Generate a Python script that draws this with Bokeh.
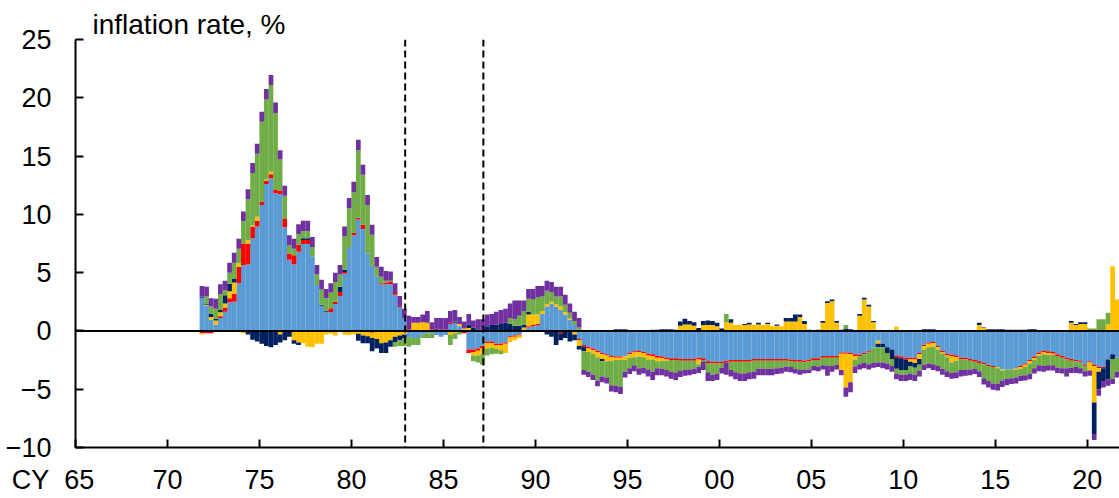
import numpy as np
import pandas as pd
from bokeh.plotting import figure
from bokeh.models import ColumnDataSource, Span, FixedTicker, Range1d
from bokeh.embed import file_html
from bokeh.resources import INLINE

# quarterly bars, 1971Q4 .. 2021Q3
quarters = pd.period_range("1971Q4", "2021Q3", freq="Q")

# contributions to the inflation rate (% points), one value per quarter
blue = [
    2.85, 2.15, 0.95, 0.55, 1.1, 1.65, 2.45, 2.5, 4.1, 5.65,
    5.7, 7.95, 8.95, 10.8, 12.6, 13.1, 11.8, 11.75, 8.9, 6.1,
    5.7, 6.8, 7.45, 7.45, 6.4, 3.95, 2.15, 1.65, 1.6, 2.3,
    3.0, 4.9, 7.2, 8.2, 9.55, 8.75, 6.65, 5.6, 4.65, 4.0,
    4.0, 4.0, 3.1, 2.05, 1.1, -0.55, -0.6, -0.6, -0.3, -0.2,
    -0.2, -0.35, -0.5, -0.35, 0.6, 0.7, 0.4, 0, -1.6, -1.6,
    -1.5, -1.3, -0.9, -0.9, -1.1, -1.1, -1.0, -0.45, -0.4, -0.3,
    0, 0.3, 0.4, 0.5, 1.45, 2.1, 2.35, 2.1, 1.8, 1.4,
    0.95, 0.5, -0.7, -1.2, -1.35, -1.5, -1.7, -1.9, -2.0, -2.15,
    -2.2, -2.2, -2.2, -1.9, -1.75, -1.7, -1.8, -1.95, -2.0, -2.15,
    -2.2, -2.3, -2.35, -2.35, -2.4, -2.4, -2.4, -2.4, -2.3, -2.35,
    -2.6, -2.65, -2.65, -2.65, -2.55, -2.5, -2.5, -2.5, -2.5, -2.5,
    -2.4, -2.4, -2.4, -2.4, -2.4, -2.4, -2.4, -2.4, -2.45, -2.5,
    -2.5, -2.55, -2.45, -2.35, -2.35, -2.15, -2.15, -2.15, -2.15, -1.85,
    -1.85, -1.9, -2.0, -2.05, -1.9, -1.75, -1.45, -0.85, -1.1, -1.4,
    -1.6, -2.1, -2.2, -2.3, -2.3, -2.3, -1.9, -1.2, -1.0, -0.95,
    -1.3, -1.7, -1.95, -2.05, -2.1, -2.3, -2.3, -2.4, -2.5, -2.6,
    -2.75, -2.9, -3.0, -3.1, -3.3, -3.3, -3.3, -3.25, -3.0, -2.8,
    -2.5, -2.2, -1.85, -1.7, -1.75, -1.8, -2.0, -2.15, -2.3, -2.4,
    -2.5, -2.6, -2.95, -2.6, -2.9, -3.1, -3.1, -2.45, -2.0, -2.3,
]
red = [
    -0.2, -0.2, -0.2, 0, 0.15, 0.35, 0.35, 0.7, 1.4, 1.85,
    1.8, 1.0, 0.5, 0.3, 0.3, 0.35, 0.3, 0.3, 0.7, 0.55,
    0.8, 0.6, 0.35, 0.35, 0, -0.1, -0.1, 0, 0.35, 0.2,
    0.35, 0.15, 0, 0.2, 0.15, 0.35, 0, -0.15, 0, 0.1,
    0.15, 0.2, 0.15, 0.1, 0, 0.15, 0, 0, 0, 0,
    0.15, 0.1, 0.1, 0.1, 0.1, 0, 0, -0.2, -0.3, -0.2,
    -0.2, -0.2, -0.15, -0.15, -0.1, -0.1, -0.1, -0.1, -0.1, -0.1,
    0.1, 0.1, 0.1, 0.1, 0, 0, 0, 0, -0.2, -0.1,
    -0.1, 0, -0.1, -0.15, -0.15, -0.15, -0.15, -0.1, -0.1, -0.1,
    -0.1, -0.1, 0, -0.1, -0.1, -0.1, -0.1, -0.15, -0.15, -0.15,
    -0.15, -0.15, -0.15, -0.15, -0.15, -0.15, -0.15, -0.15, -0.15, -0.15,
    -0.15, -0.15, -0.15, -0.1, -0.15, -0.15, -0.15, -0.15, -0.15, -0.15,
    -0.15, -0.15, -0.15, -0.15, -0.15, -0.15, -0.15, -0.15, -0.15, -0.15,
    -0.15, -0.15, -0.15, -0.15, -0.15, -0.15, -0.15, -0.15, -0.15, -0.1,
    -0.1, -0.1, -0.15, -0.15, -0.1, -0.1, 0, 0, 0, 0,
    0, -0.15, -0.15, -0.15, -0.15, -0.15, -0.1, -0.1, -0.1, -0.1,
    -0.1, -0.15, -0.15, -0.15, -0.15, -0.15, -0.15, -0.15, -0.15, -0.15,
    -0.1, -0.1, -0.1, 0, 0, 0, 0, 0, -0.1, -0.1,
    -0.1, -0.15, -0.15, -0.15, -0.15, -0.15, -0.15, -0.15, -0.15, -0.15,
    -0.1, -0.1, -0.1, -0.1, -0.1, -0.1, -0.1, 0, 0, 0,
]
yellow = [
    -0.1, 0.1, 0.25, 0.35, 0.35, 0.35, 0.6, 0.95, 0.3, -0.2,
    0.3, 0.1, 0.35, 0, 0.1, 0.2, 0, -0.3, 0, 0,
    -0.8, -1.0, -1.05, -1.35, -1.4, -1.0, -1.0, -0.3, -0.25, -0.4,
    -0.1, -0.3, -0.35, -0.3, -0.25, -0.4, -0.45, -0.45, -0.7, -1.05,
    -1.0, -0.8, -0.5, -0.4, -0.3, 0, 0.7, 0.7, 0.75, 0.7,
    0, 0, 0, 0, -0.35, -0.2, 0.2, 0.2, 0.25, -0.3,
    -0.4, -0.5, -0.45, -0.4, -0.35, -0.45, -0.8, -0.4, -0.3, -0.2,
    0.2, 1.0, 0.9, 0.8, 0.25, 0.2, 0.15, 0.2, 0.3, 0.2,
    0.1, -0.3, -0.5, 0, -0.3, -0.3, -0.4, -0.4, -0.5, -0.3,
    -0.2, -0.2, -0.3, -0.3, -0.4, -0.4, -0.35, -0.4, -0.3, -0.3,
    -0.2, -0.1, 0, 0, 0.45, 0.55, 0.55, 0.45, -0.4, 0.5,
    0.5, 0.5, 0.4, 0, 0.75, 0.7, 0.5, 0.5, 0.5, 0.55,
    0.5, 0.55, 0.5, 0.6, 0.4, 0.45, 0.4, 0.8, 0.8, 0.8,
    1.2, 0.6, 0, 0, 0, 0.7, 2.4, 2.55, 0.7, -1.4,
    -2.9, -2.4, -0.3, 1.3, 2.7, 2.1, 0.75, -0.25, 0, 0,
    0, 0.35, 0, 0, -0.2, -0.3, -0.4, -0.3, -0.3, -0.3,
    -0.2, -0.1, -0.15, -0.5, -0.3, 0, 0, 0, 0, 0.5,
    0.25, 0, 0, -0.1, -0.1, 0, 0, -0.1, -0.15, -0.2,
    -0.2, -0.15, -0.15, -0.15, -0.15, -0.1, 0, 0, 0, 0.7,
    0.5, 0.6, 0.6, -0.7, -3.15, -0.3, 0, 0.55, 5.55, 2.7,
]
navy = [
    0.1, 0.1, 0.3, 0.15, 0.2, 0.7, 0.65, 0.35, 0, 0,
    -0.3, -0.75, -0.9, -1.1, -1.3, -1.4, -1.2, -0.7, -0.8, -0.5,
    -0.3, -0.2, 0.15, 0.15, 0, 0, 0.1, 0.1, 0, 0,
    0.45, 0.2, 0, 0, -0.6, -0.65, -0.6, -1.15, -0.8, -0.85,
    -0.9, -0.55, -0.45, -0.4, -0.3, 0, 0, 0, 0, 0,
    0, 0.1, 0, 0, 0, 0.1, 0, 0, 0.3, 0.3,
    0.1, 0.1, 0.4, 0.5, 0.55, 0.6, 0.7, 0.6, 0.45, 0.45,
    0.2, 0.25, 0, 0, 0, -0.3, -0.5, -1.2, -0.6, -0.5,
    -0.8, -0.5, -0.3, -0.4, 0, 0, 0, -0.2, 0, 0,
    0.15, 0.15, 0.15, 0, 0, 0, 0.05, 0.05, 0.1, 0.1,
    0.15, 0.15, 0.15, 0.1, 0.35, 0.5, 0.3, 0.3, 0.25, 0.35,
    0.4, 0.35, 0.3, 0.2, 0, 0.3, 0, 0, 0.1, 0.15,
    0, 0.15, 0, 0.1, 0, 0.1, 0, 0.3, 0.3, 0.6,
    0.2, 0.25, 0.1, 0, 0.1, 0.15, 0.15, 0.15, 0.15, 0.1,
    0.2, 0.15, 0, 0.15, 0.15, 0.15, 0.1, -0.3, -0.3, -0.5,
    -0.8, -1.0, -1.0, -0.9, -0.4, -0.4, -0.5, 0.15, 0.15, 0.15,
    0, 0, 0, 0, 0, 0, 0, 0, 0, 0.2,
    0.05, 0.15, 0.15, 0.15, 0.15, 0.1, 0.1, 0.1, 0.1, 0.1,
    0.15, 0.15, 0, 0, 0, 0, 0, 0, 0, 0.15,
    0.1, 0.15, 0.15, 0, -2.7, -1.5, -1.1, -1.7, -0.4, 0,
]
green = [
    0, 0.6, 0.6, 0.85, 1.35, 0.45, 0.95, 1.35, 1.25, 1.9,
    3.5, 4.5, 5.4, 6.85, 6.85, 7.45, 6.6, 2.65, 2.0, 0.7,
    0.55, 0.9, 0.6, 0.6, 0.8, 0.9, 1.3, 1.05, 1.35, 1.7,
    1.05, 2.85, 3.3, 3.5, 5.8, 4.3, 4.15, 2.65, 0.85, 0.55,
    0.15, 0.1, -0.4, -0.5, -0.7, -0.8, -0.6, -0.6, -0.3, -0.4,
    -0.4, 0, 0, 0, -0.85, -0.5, -0.3, 0, 0, -0.5,
    -0.6, -0.9, -0.6, -0.55, -0.4, -0.35, 0, 0.5, 0.55, 0.85,
    1.2, 1.1, 1.3, 1.5, 1.25, 1.15, 0.85, 0.65, 0.85, 0.65,
    0.5, 0.35, 0.3, -1.6, -1.7, -1.8, -2.0, -1.3, -1.4, -2.1,
    -2.2, -2.3, -1.0, -0.9, -0.7, -1.0, -0.9, -0.8, -1.05, -0.6,
    -0.7, -0.8, -1.0, -1.1, -0.85, -0.8, -0.75, -0.7, -0.25, -0.1,
    -0.8, -0.95, -0.9, -0.4, 0.7, -0.7, -0.9, -1.0, -1.0, -0.9,
    -0.95, -0.7, -0.7, -0.7, -0.7, -0.65, -0.6, -0.5, -0.5, -0.6,
    -0.7, -0.6, -0.7, -0.5, -0.55, -0.65, -0.7, -0.7, -0.6, 0,
    0.3, 0, -0.6, -0.65, -0.75, -1.0, -1.3, -1.3, -1.3, -0.9,
    -0.6, -0.4, -0.4, -0.4, -0.6, -0.6, -0.5, -1.3, -1.4, -1.5,
    -1.4, -1.3, -1.2, -0.9, -1.0, -0.9, -0.9, -0.75, -0.6, -0.7,
    -1.2, -1.3, -1.4, -1.35, -0.85, -0.8, -0.75, -0.65, -0.6, -0.7,
    -0.9, -0.7, -0.8, -1.0, -0.9, -0.9, -1.0, -0.9, -0.75, -0.6,
    -0.5, -0.5, -0.4, 0.2, 0.2, 1.0, 1.0, 1.0, -1.7, -1.2,
]
purple = [
    0.9, 0.85, 0.7, 0.85, 0.85, 0.8, 0.85, 0.85, 0.85, 0.85,
    0.85, 0.85, 0.85, 0.85, 0.9, 0.85, 0.9, 0.8, 0.85, 0.85,
    0.85, 0.85, 0.9, 0.9, 0.85, 0.8, 0.85, 0.8, 0.8, 0.8,
    0.8, 0.85, 0.9, 0.9, 0.9, 0.85, 0.85, 0.85, 0.85, 0.85,
    0.85, 0.8, 0.85, 0.85, 0.8, 1.15, 0.5, 0.5, 0.65, 1.0,
    0.6, 0.9, 1.0, 1.0, 1.0, 1.0, 0.6, 0.6, 0.9, 0.6,
    0.9, 0.9, 1.0, 0.95, 1.1, 1.2, 1.2, 1.25, 1.6, 1.3,
    0.9, 0.85, 0.9, 0.95, 0.9, 0.85, 0.85, 0.85, 0.85, 0.85,
    0.8, 0.8, 0.8, -0.4, -0.45, -0.45, -0.5, -0.5, -0.5, -0.55,
    -0.55, -0.6, -0.5, -0.5, -0.5, -0.55, -0.5, -0.6, -0.7, -0.6,
    -0.55, -0.55, -0.6, -0.6, -0.55, -0.5, -0.5, -0.45, -0.5, -0.75,
    -0.75, -0.55, -0.5, -0.5, -1.05, -0.55, -0.6, -0.65, -0.65, -0.6,
    -0.6, -0.55, -0.55, -0.55, -0.55, -0.5, -0.5, -0.45, -0.45, -0.4,
    -0.4, -0.35, -0.3, -0.4, -0.4, -0.35, -0.85, -0.5, -0.4, -0.45,
    -0.8, -0.85, -0.55, -0.45, -0.45, -0.45, -0.4, -0.4, -0.5, -0.5,
    -0.5, -0.5, -0.55, -0.55, -0.55, -0.55, -0.5, -0.45, -0.4, -0.5,
    -0.45, -0.5, -0.5, -0.5, -0.5, -0.55, -0.5, -0.5, -0.45, -0.5,
    -0.55, -0.55, -0.55, -0.55, -0.55, -0.55, -0.5, -0.5, -0.45, -0.45,
    -0.45, -0.45, -0.5, -0.5, -0.45, -0.45, -0.45, -0.45, -0.7, -0.45,
    -0.5, -0.45, -0.45, -0.45, -0.5, -0.55, -0.55, -0.55, -0.45, -0.5,
]

# stacking order from the zero line outwards
names = ["blue", "red", "yellow", "navy", "green", "purple"]
colors = ["#5B9BD5", "#FF0000", "#FFC000", "#002060", "#70AD47", "#7030A0"]
values = dict(blue=blue, red=red, yellow=yellow, navy=navy, green=green, purple=purple)

tick_years = [1965, 1970, 1975, 1980, 1985, 1990, 1995, 2000, 2005, 2010, 2015, 2020]
tick_labels = ["65", "70", "75", "80", "85", "90", "95", "00", "05", "10", "15", "20"]
event_lines = [1982.92, 1987.17]

x = np.asarray(quarters.year + (quarters.quarter - 1) / 4 + 0.125, dtype=float)
pos = dict(x=x)
neg = dict(x=x)
for n in names:
    v = np.array(values[n], dtype=float)
    pos[n] = np.clip(v, 0, None)
    neg[n] = np.clip(v, None, 0)

FONT = "Liberation Sans"
NB = "\u00a0"

p = figure(width=1119, height=498, output_backend="svg", toolbar_location=None,
           x_range=Range1d(1965, 2021.75), y_range=Range1d(-10, 25),
           min_border_left=75, min_border_right=0, min_border_top=39, min_border_bottom=51)
p.grid.grid_line_color = None
p.outline_line_color = None

p.title.text = "inflation rate, %"
p.title.align = "left"
p.title.offset = 17
p.title.standoff = 0
p.title.text_font = FONT
p.title.text_font_size = "28px"
p.title.text_font_style = "normal"
p.title.text_color = "black"

p.vbar_stack(names, x="x", width=0.255, fill_color=colors, line_color=None,
             source=ColumnDataSource(pos))
p.vbar_stack(names, x="x", width=0.255, fill_color=colors, line_color=None,
             source=ColumnDataSource(neg))

p.add_layout(Span(location=0, dimension="width", line_color="black", line_width=2))
for yr in event_lines:
    p.add_layout(Span(location=yr, dimension="height", line_color="black",
                      line_width=2, line_dash="7 4"))

for ax in (p.xaxis, p.yaxis):
    ax.axis_line_width = 2
    ax.major_tick_line_width = 2
    ax.major_tick_in = 8
    ax.major_tick_out = 0
    ax.minor_tick_line_color = None
    ax.major_label_text_font = FONT
    ax.major_label_text_font_size = "27px"
    ax.major_label_text_color = "black"

# first label carries the "CY" prefix, padded so "65" stays under its tick
labels = dict(zip(tick_years, tick_labels))
labels[1965] = "CY" + NB * 2 + labels[1965] + NB * 6
p.xaxis.ticker = FixedTicker(ticks=tick_years)
p.xaxis.major_label_overrides = labels
p.xaxis.major_label_standoff = 17
p.yaxis.ticker = FixedTicker(ticks=[-10, -5, 0, 5, 10, 15, 20, 25])
p.yaxis.major_label_standoff = 24

open("out.html", "w").write(file_html(p, INLINE))
